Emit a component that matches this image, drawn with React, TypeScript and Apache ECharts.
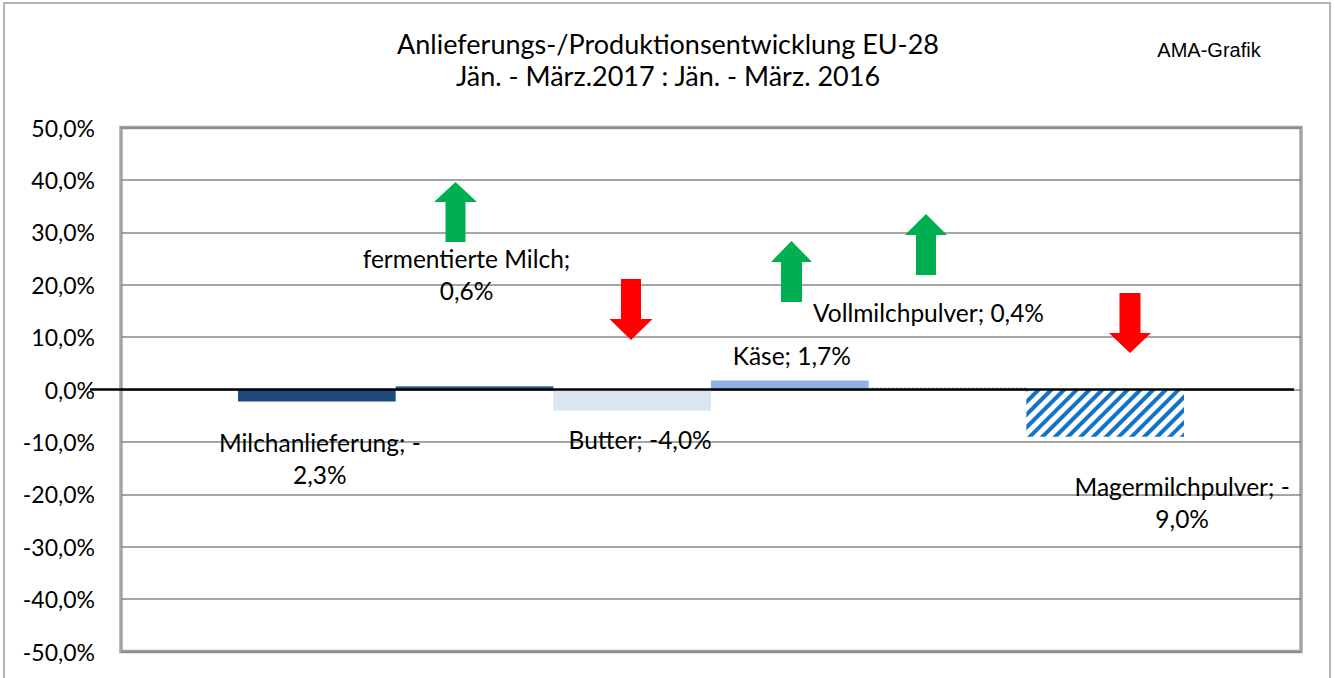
import React, { useEffect, useRef } from 'react';
import * as echarts from 'echarts';

// ---- data ----
const categories = ['Milchanlieferung', 'fermentierte Milch', 'Butter', 'Käse', 'Vollmilchpulver', 'Magermilchpulver'];
const values = [-2.3, 0.6, -4.0, 1.7, 0.4, -9.0];
const wrapLabel = [true, true, false, false, false, true];
const titleLines = ['Anlieferungs-/Produktionsentwicklung EU-28', 'Jän. - März.2017 : Jän. - März. 2016'];
const sourceNote = 'AMA-Grafik';
const yMin = -50;
const yMax = 50;
const yStep = 10;

// ---- styling ----
const barColors = ['#1f497d', '#2f5f9e', '#dbe5f1', '#8db3e2', '#c6d9f1', '#ffffff'];
const labelOffsets: [number, number][] = [
  [3, 63],
  [-8, -113],
  [8, 40],
  [2, -30],
  [-19, -76],
  [77, 89],
];
// decorative trend arrows: [centerX, tipY, headBaseY, endY, headHalfW, shaftHalfW, color]
const arrows: [number, number, number, number, number, number, string][] = [
  [455.5, 182, 202, 242, 21.5, 10, '#00b050'],
  [631, 340, 319, 279, 21.5, 10, '#ff0000'],
  [791.5, 241, 262, 302, 20.5, 10.5, '#00b050'],
  [926, 214, 235, 275, 21, 10, '#00b050'],
  [1130, 353, 333, 293, 21, 10.5, '#ff0000'],
];

const FONT = 'Lato';
const fmtPct = (v: number) => v.toFixed(1).replace('.', ',') + '%';

function labelText(i: number) {
  const v = values[i];
  const txt = `${categories[i]}; ${fmtPct(v)}`;
  if (!wrapLabel[i]) return txt;
  if (v < 0) return txt.replace('; -', '; -\n');
  return txt.replace('; ', ';\n');
}

export default function App() {
  const ref = useRef<HTMLDivElement>(null);
  useEffect(() => {
    if (!ref.current) return;
    const chart = echarts.init(ref.current, undefined, { renderer: 'svg' });
    const gridTop = 127.5;
    const gridBottom = 26.5;
    const option: any = {
      animation: false,
      backgroundColor: '#ffffff',
      grid: [
        {
          left: 121, right: 34, top: gridTop, bottom: gridBottom,
          show: true, borderColor: '#a4a4a4', borderWidth: 3.5, backgroundColor: 'transparent',
        },
        { left: 238, right: 151, top: gridTop, bottom: gridBottom },
      ],
      xAxis: [
        { type: 'value', gridIndex: 0, min: 0, max: 1, show: false },
        {
          type: 'category', gridIndex: 1, data: categories, show: false,
          axisLine: { show: false }, axisTick: { show: false }, axisLabel: { show: false },
        },
      ],
      yAxis: [
        {
          type: 'value', gridIndex: 0, min: yMin, max: yMax, interval: yStep,
          axisLine: { show: false }, axisTick: { show: false },
          axisLabel: { formatter: (v: number) => fmtPct(v), fontFamily: FONT, fontSize: 23, color: '#000', margin: 26 },
          splitLine: { show: true, lineStyle: { color: '#878787', width: 1.5 } },
        },
        {
          type: 'value', gridIndex: 1, min: yMin, max: yMax, interval: yStep, show: false,
          splitLine: { show: false },
        },
      ],
      series: [
        {
          type: 'bar',
          xAxisIndex: 1,
          yAxisIndex: 1,
          barWidth: '100%',
          barCategoryGap: 0,
          z: 3,
          data: values.map((v, i) => ({
            value: v,
            itemStyle: i === 5
              ? {
                  color: '#ffffff',
                  decal: { symbol: 'rect', symbolSize: 1, color: '#1273c7', dashArrayX: [1, 0], dashArrayY: [3.5, 5], rotation: -Math.PI / 4 },
                }
              : i === 4
                ? {
                    color: '#ffffff',
                    decal: { symbol: 'rect', symbolSize: 1, color: '#8db3e2', dashArrayX: [2, 2], dashArrayY: [1, 0], rotation: 0 },
                  }
                : { color: barColors[i] },
            label: {
              show: true,
              position: 'inside',
              offset: labelOffsets[i],
              formatter: () => labelText(i),
              fontFamily: FONT,
              fontSize: 24.5,
              lineHeight: 32,
              color: '#000',
              align: 'center',
            },
          })),
        },
      ],
    };
    chart.setOption(option);

    const y0 = chart.convertToPixel({ yAxisIndex: 0 }, 0) as number;
    const arrowEls = arrows.map(([cx, tip, base, end, hw, sw, color]) => ({
      type: 'polygon',
      z: 50,
      shape: {
        points: [
          [cx, tip], [cx + hw, base], [cx + sw, base], [cx + sw, end],
          [cx - sw, end], [cx - sw, base], [cx - hw, base],
        ],
      },
      style: { fill: color },
    }));
    const titleY = [43, 75];
    chart.setOption({
      graphic: [
        {
          type: 'rect', z: 0, silent: true,
          shape: { x: 4, y: 3, width: 1326, height: 700 },
          style: { fill: 'none', stroke: '#9a9a9a', lineWidth: 1.5 },
        },
        {
          type: 'line', z: 60,
          shape: { x1: 90, y1: y0, x2: 1294, y2: y0 },
          style: { stroke: '#000000', lineWidth: 2.5 },
        },
        ...titleLines.map((t, i) => ({
          type: 'text', z: 60, x: 668, y: titleY[i],
          style: { text: t, fontFamily: FONT, fontSize: 27, fill: '#000', align: 'center', verticalAlign: 'middle' },
        })),
        {
          type: 'text', z: 60, x: 1209, y: 50,
          style: { text: sourceNote, fontFamily: 'Liberation Sans', fontSize: 20, fill: '#000', align: 'center', verticalAlign: 'middle' },
        },
        ...arrowEls,
      ],
    });
    return () => chart.dispose();
  }, []);
  return <div ref={ref} style={{ position: 'fixed', left: 0, top: 0, width: 1335, height: 678 }} />;
}
